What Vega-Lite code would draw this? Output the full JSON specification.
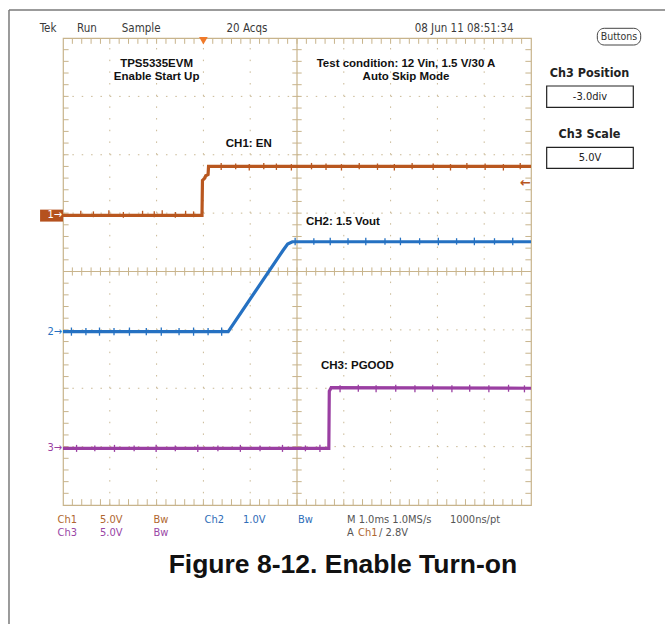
{
  "$schema": "https://vega.github.io/schema/vega-lite/v6.json",
  "width": 468,
  "height": 467,
  "autosize": {"type": "none"},
  "padding": {"left": 63, "top": 38, "right": 134, "bottom": 119},
  "background": "white",
  "config": {"view": {"stroke": "#c8b48c", "strokeWidth": 1.2}},
  "resolve": {"scale": {"color": "independent"}},
  "datasets": {
    "gx": [{"v": -4}, {"v": -3}, {"v": -2}, {"v": -1}, {"v": 1}, {"v": 2}, {"v": 3}, {"v": 4}],
    "gy": [{"v": -3}, {"v": -2}, {"v": -1}, {"v": 1}, {"v": 2}, {"v": 3}],
    "xt": [{"v": -4.8}, {"v": -4.6}, {"v": -4.4}, {"v": -4.2}, {"v": -4}, {"v": -3.8}, {"v": -3.6}, {"v": -3.4}, {"v": -3.2}, {"v": -3}, {"v": -2.8}, {"v": -2.6}, {"v": -2.4}, {"v": -2.2}, {"v": -2}, {"v": -1.8}, {"v": -1.6}, {"v": -1.4}, {"v": -1.2}, {"v": -1}, {"v": -0.8}, {"v": -0.6}, {"v": -0.4}, {"v": -0.2}, {"v": 0}, {"v": 0.2}, {"v": 0.4}, {"v": 0.6}, {"v": 0.8}, {"v": 1}, {"v": 1.2}, {"v": 1.4}, {"v": 1.6}, {"v": 1.8}, {"v": 2}, {"v": 2.2}, {"v": 2.4}, {"v": 2.6}, {"v": 2.8}, {"v": 3}, {"v": 3.2}, {"v": 3.4}, {"v": 3.6}, {"v": 3.8}, {"v": 4}, {"v": 4.2}, {"v": 4.4}, {"v": 4.6}, {"v": 4.8}],
    "yt": [{"v": -3.8}, {"v": -3.6}, {"v": -3.4}, {"v": -3.2}, {"v": -3}, {"v": -2.8}, {"v": -2.6}, {"v": -2.4}, {"v": -2.2}, {"v": -2}, {"v": -1.8}, {"v": -1.6}, {"v": -1.4}, {"v": -1.2}, {"v": -1}, {"v": -0.8}, {"v": -0.6}, {"v": -0.4}, {"v": -0.2}, {"v": 0}, {"v": 0.2}, {"v": 0.4}, {"v": 0.6}, {"v": 0.8}, {"v": 1}, {"v": 1.2}, {"v": 1.4}, {"v": 1.6}, {"v": 1.8}, {"v": 2}, {"v": 2.2}, {"v": 2.4}, {"v": 2.6}, {"v": 2.8}, {"v": 3}, {"v": 3.2}, {"v": 3.4}, {"v": 3.6}, {"v": 3.8}],
    "traces": [
      {"ch": "CH1", "i": 0, "t": -5, "v": 0.96},
      {"ch": "CH1", "i": 1, "t": -2.03, "v": 0.96},
      {"ch": "CH1", "i": 2, "t": -2.02, "v": 1.56},
      {"ch": "CH1", "i": 3, "t": -1.97, "v": 1.6},
      {"ch": "CH1", "i": 4, "t": -1.95, "v": 1.64},
      {"ch": "CH1", "i": 5, "t": -1.9, "v": 1.66},
      {"ch": "CH1", "i": 6, "t": -1.89, "v": 1.8},
      {"ch": "CH1", "i": 7, "t": 5, "v": 1.8},
      {"ch": "CH2", "i": 0, "t": -5, "v": -1.03},
      {"ch": "CH2", "i": 1, "t": -1.47, "v": -1.03},
      {"ch": "CH2", "i": 2, "t": -0.3, "v": 0.36},
      {"ch": "CH2", "i": 3, "t": -0.2, "v": 0.47},
      {"ch": "CH2", "i": 4, "t": -0.1, "v": 0.51},
      {"ch": "CH2", "i": 5, "t": 5, "v": 0.51},
      {"ch": "CH3", "i": 0, "t": -5, "v": -3.03},
      {"ch": "CH3", "i": 1, "t": 0.68, "v": -3.03},
      {"ch": "CH3", "i": 2, "t": 0.69, "v": -2.05},
      {"ch": "CH3", "i": 3, "t": 0.73, "v": -1.99},
      {"ch": "CH3", "i": 4, "t": 5, "v": -2.0}
    ],
    "spikes": [
      {"ch": "CH1", "t": -4.62, "lo": 0.94, "hi": 1.04},
      {"ch": "CH1", "t": -4.35, "lo": 0.93, "hi": 1.03},
      {"ch": "CH1", "t": -4.02, "lo": 0.94, "hi": 1.05},
      {"ch": "CH1", "t": -3.71, "lo": 0.92, "hi": 1.02},
      {"ch": "CH1", "t": -3.3, "lo": 0.94, "hi": 1.04},
      {"ch": "CH1", "t": -3.05, "lo": 0.93, "hi": 1.03},
      {"ch": "CH1", "t": -2.88, "lo": 0.94, "hi": 1.05},
      {"ch": "CH1", "t": -2.6, "lo": 0.92, "hi": 1.02},
      {"ch": "CH1", "t": -2.38, "lo": 0.94, "hi": 1.04},
      {"ch": "CH1", "t": -2.21, "lo": 0.93, "hi": 1.03},
      {"ch": "CH1", "t": -1.62, "lo": 1.74, "hi": 1.86},
      {"ch": "CH1", "t": -1.31, "lo": 1.75, "hi": 1.85},
      {"ch": "CH1", "t": -1.02, "lo": 1.73, "hi": 1.84},
      {"ch": "CH1", "t": -0.71, "lo": 1.75, "hi": 1.86},
      {"ch": "CH1", "t": -0.44, "lo": 1.74, "hi": 1.85},
      {"ch": "CH1", "t": -0.12, "lo": 1.73, "hi": 1.84},
      {"ch": "CH1", "t": 0.31, "lo": 1.75, "hi": 1.86},
      {"ch": "CH1", "t": 0.62, "lo": 1.74, "hi": 1.85},
      {"ch": "CH1", "t": 0.95, "lo": 1.73, "hi": 1.84},
      {"ch": "CH1", "t": 1.33, "lo": 1.75, "hi": 1.86},
      {"ch": "CH1", "t": 1.72, "lo": 1.74, "hi": 1.85},
      {"ch": "CH1", "t": 2.08, "lo": 1.73, "hi": 1.84},
      {"ch": "CH1", "t": 2.46, "lo": 1.75, "hi": 1.86},
      {"ch": "CH1", "t": 2.91, "lo": 1.74, "hi": 1.85},
      {"ch": "CH1", "t": 3.28, "lo": 1.73, "hi": 1.84},
      {"ch": "CH1", "t": 3.63, "lo": 1.75, "hi": 1.86},
      {"ch": "CH1", "t": 4.02, "lo": 1.74, "hi": 1.85},
      {"ch": "CH1", "t": 4.41, "lo": 1.73, "hi": 1.84},
      {"ch": "CH1", "t": 4.77, "lo": 1.75, "hi": 1.86},
      {"ch": "CH2", "t": -4.82, "lo": -1.1, "hi": -0.96},
      {"ch": "CH2", "t": -4.51, "lo": -1.09, "hi": -0.97},
      {"ch": "CH2", "t": -4.22, "lo": -1.1, "hi": -0.96},
      {"ch": "CH2", "t": -3.91, "lo": -1.09, "hi": -0.97},
      {"ch": "CH2", "t": -3.58, "lo": -1.1, "hi": -0.96},
      {"ch": "CH2", "t": -3.22, "lo": -1.09, "hi": -0.97},
      {"ch": "CH2", "t": -2.9, "lo": -1.1, "hi": -0.96},
      {"ch": "CH2", "t": -2.52, "lo": -1.09, "hi": -0.97},
      {"ch": "CH2", "t": -2.21, "lo": -1.1, "hi": -0.96},
      {"ch": "CH2", "t": -1.9, "lo": -1.09, "hi": -0.97},
      {"ch": "CH2", "t": -1.61, "lo": -1.1, "hi": -0.96},
      {"ch": "CH2", "t": -0.04, "lo": 0.45, "hi": 0.58},
      {"ch": "CH2", "t": 0.36, "lo": 0.46, "hi": 0.57},
      {"ch": "CH2", "t": 0.71, "lo": 0.45, "hi": 0.58},
      {"ch": "CH2", "t": 1.09, "lo": 0.46, "hi": 0.57},
      {"ch": "CH2", "t": 1.47, "lo": 0.45, "hi": 0.58},
      {"ch": "CH2", "t": 1.88, "lo": 0.46, "hi": 0.57},
      {"ch": "CH2", "t": 2.21, "lo": 0.45, "hi": 0.58},
      {"ch": "CH2", "t": 2.62, "lo": 0.46, "hi": 0.57},
      {"ch": "CH2", "t": 3.02, "lo": 0.45, "hi": 0.58},
      {"ch": "CH2", "t": 3.41, "lo": 0.46, "hi": 0.57},
      {"ch": "CH2", "t": 3.79, "lo": 0.45, "hi": 0.58},
      {"ch": "CH2", "t": 4.22, "lo": 0.46, "hi": 0.57},
      {"ch": "CH2", "t": 4.61, "lo": 0.45, "hi": 0.58},
      {"ch": "CH3", "t": -4.71, "lo": -3.09, "hi": -2.97},
      {"ch": "CH3", "t": -4.32, "lo": -3.08, "hi": -2.98},
      {"ch": "CH3", "t": -3.9, "lo": -3.09, "hi": -2.97},
      {"ch": "CH3", "t": -3.48, "lo": -3.08, "hi": -2.98},
      {"ch": "CH3", "t": -3.01, "lo": -3.09, "hi": -2.97},
      {"ch": "CH3", "t": -2.6, "lo": -3.08, "hi": -2.98},
      {"ch": "CH3", "t": -2.12, "lo": -3.09, "hi": -2.97},
      {"ch": "CH3", "t": -1.69, "lo": -3.08, "hi": -2.98},
      {"ch": "CH3", "t": -1.21, "lo": -3.09, "hi": -2.97},
      {"ch": "CH3", "t": -0.79, "lo": -3.08, "hi": -2.98},
      {"ch": "CH3", "t": -0.31, "lo": -3.09, "hi": -2.97},
      {"ch": "CH3", "t": 0.18, "lo": -3.08, "hi": -2.98},
      {"ch": "CH3", "t": 0.49, "lo": -3.09, "hi": -2.97},
      {"ch": "CH3", "t": 0.92, "lo": -2.07, "hi": -1.95},
      {"ch": "CH3", "t": 1.31, "lo": -2.06, "hi": -1.94},
      {"ch": "CH3", "t": 1.69, "lo": -2.07, "hi": -1.95},
      {"ch": "CH3", "t": 2.11, "lo": -2.06, "hi": -1.94},
      {"ch": "CH3", "t": 2.52, "lo": -2.07, "hi": -1.95},
      {"ch": "CH3", "t": 2.9, "lo": -2.06, "hi": -1.94},
      {"ch": "CH3", "t": 3.31, "lo": -2.07, "hi": -1.95},
      {"ch": "CH3", "t": 3.69, "lo": -2.06, "hi": -1.94},
      {"ch": "CH3", "t": 4.1, "lo": -2.07, "hi": -1.95},
      {"ch": "CH3", "t": 4.52, "lo": -2.06, "hi": -1.94},
      {"ch": "CH3", "t": 4.86, "lo": -2.07, "hi": -1.95}
    ],
    "header": [
      {"text": "Tek", "x": -5.32, "y": 4.15},
      {"text": "Run", "x": -4.49, "y": 4.15},
      {"text": "Sample", "x": -3.33, "y": 4.15},
      {"text": "20 Acqs", "x": -1.07, "y": 4.15},
      {"text": "08 Jun 11 08:51:34", "x": 3.57, "y": 4.15}
    ],
    "notes": [
      {"text": "TPS5335EVM", "x": -3.0, "y": 3.555},
      {"text": "Enable Start Up", "x": -3.0, "y": 3.33},
      {"text": "Test condition: 12 Vin, 1.5 V/30 A", "x": 2.33, "y": 3.555},
      {"text": "Auto Skip Mode", "x": 2.33, "y": 3.33},
      {"text": "CH1: EN", "x": -1.03, "y": 2.18},
      {"text": "CH2: 1.5 Vout", "x": 0.98, "y": 0.85},
      {"text": "CH3: PGOOD", "x": 1.29, "y": -1.62}
    ],
    "status": [
      {"text": "Ch1", "x": -5.118, "y": -4.257, "ch": "1"},
      {"text": "5.0V", "x": -4.209, "y": -4.257, "ch": "1"},
      {"text": "Bw", "x": -3.066, "y": -4.257, "ch": "1"},
      {"text": "Ch2", "x": -1.974, "y": -4.257, "ch": "2"},
      {"text": "1.0V", "x": -1.154, "y": -4.257, "ch": "2"},
      {"text": "Bw", "x": 0.021, "y": -4.257, "ch": "2"},
      {"text": "M 1.0ms 1.0MS/s", "x": 1.068, "y": -4.257, "ch": "k"},
      {"text": "1000ns/pt", "x": 3.269, "y": -4.257, "ch": "k"},
      {"text": "Ch3", "x": -5.118, "y": -4.48, "ch": "3"},
      {"text": "5.0V", "x": -4.209, "y": -4.48, "ch": "3"},
      {"text": "Bw", "x": -3.066, "y": -4.48, "ch": "3"},
      {"text": "A", "x": 1.068, "y": -4.48, "ch": "k"},
      {"text": "Ch1", "x": 1.303, "y": -4.48, "ch": "1"},
      {"text": "/ 2.8V", "x": 1.752, "y": -4.48, "ch": "k"}
    ],
    "markers": [
      {"text": "2→", "lvl": -1.03, "ch": "2"},
      {"text": "3→", "lvl": -3.03, "ch": "3"}
    ],
    "panelTitles": [
      {"text": "Ch3 Position", "x": 6.25, "y": 3.406},
      {"text": "Ch3 Scale", "x": 6.25, "y": 2.355}
    ],
    "panelBoxes": [
      {"text": "-3.0div", "x1": 5.335, "x2": 7.186, "y1": 3.178, "y2": 2.813, "ym": 2.989},
      {"text": "5.0V", "x1": 5.335, "x2": 7.186, "y1": 2.128, "y2": 1.768, "ym": 1.944}
    ],
    "buttons": [{"text": "Buttons", "x1": 6.417, "x2": 7.344, "y1": 4.166, "y2": 3.88, "xm": 6.88, "ym": 4.02}],
    "frameTop": [{"y": 4.48, "x1": -6.154, "x2": 8.2}],
    "frameLeft": [{"x": -6.154, "y1": 4.48, "y2": -6.3}],
    "title": [{"text": "Figure 8-12. Enable Turn-on", "x": 0.98, "y": -5.03}]
  },
  "layer": [
    {
      "data": {"name": "frameTop"},
      "mark": {"type": "rule", "color": "#7a7a7a", "strokeWidth": 1.5},
      "encoding": {
        "x": {"field": "x1", "type": "quantitative", "scale": {"domain": [-5, 5]}, "axis": null},
        "x2": {"field": "x2"},
        "y": {"field": "y", "type": "quantitative", "scale": {"domain": [-4, 4]}, "axis": null}
      }
    },
    {
      "data": {"name": "frameLeft"},
      "mark": {"type": "rule", "color": "#7a7a7a", "strokeWidth": 1.5},
      "encoding": {
        "x": {"field": "x", "type": "quantitative", "scale": {"domain": [-5, 5]}, "axis": null},
        "y": {"field": "y1", "type": "quantitative", "scale": {"domain": [-4, 4]}, "axis": null},
        "y2": {"field": "y2"}
      }
    },
    {
      "data": {"name": "gx"},
      "mark": {"type": "rule", "color": "#c9b894", "strokeWidth": 1, "strokeDash": [1.5, 10.18]},
      "encoding": {
        "x": {"field": "v", "type": "quantitative", "scale": {"domain": [-5, 5]}, "axis": null},
        "y": {"datum": -4, "type": "quantitative", "scale": {"domain": [-4, 4]}, "axis": null},
        "y2": {"datum": 4}
      }
    },
    {
      "data": {"name": "gy"},
      "mark": {"type": "rule", "color": "#c9b894", "strokeWidth": 1, "strokeDash": [1.5, 7.86]},
      "encoding": {
        "y": {"field": "v", "type": "quantitative", "scale": {"domain": [-4, 4]}, "axis": null},
        "x": {"datum": -5, "type": "quantitative", "scale": {"domain": [-5, 5]}, "axis": null},
        "x2": {"datum": 5}
      }
    },
    {
      "data": {"values": [{"v": 0}]},
      "mark": {"type": "rule", "color": "#c8b48c", "strokeWidth": 1.2},
      "encoding": {
        "x": {"field": "v", "type": "quantitative", "scale": {"domain": [-5, 5]}, "axis": null},
        "y": {"datum": -4, "type": "quantitative", "scale": {"domain": [-4, 4]}, "axis": null},
        "y2": {"datum": 4}
      }
    },
    {
      "data": {"values": [{"v": 0}]},
      "mark": {"type": "rule", "color": "#c8b48c", "strokeWidth": 1.2},
      "encoding": {
        "y": {"field": "v", "type": "quantitative", "scale": {"domain": [-4, 4]}, "axis": null},
        "x": {"datum": -5, "type": "quantitative", "scale": {"domain": [-5, 5]}, "axis": null},
        "x2": {"datum": 5}
      }
    },
    {
      "data": {"name": "xt"},
      "mark": {"type": "rule", "color": "#c8b48c", "strokeWidth": 1},
      "encoding": {
        "x": {"field": "v", "type": "quantitative", "scale": {"domain": [-5, 5]}, "axis": null},
        "y": {"datum": -0.07, "type": "quantitative", "scale": {"domain": [-4, 4]}, "axis": null},
        "y2": {"datum": 0.07}
      }
    },
    {
      "data": {"name": "xt"},
      "mark": {"type": "rule", "color": "#c8b48c", "strokeWidth": 1},
      "encoding": {
        "x": {"field": "v", "type": "quantitative", "scale": {"domain": [-5, 5]}, "axis": null},
        "y": {"datum": 4, "type": "quantitative", "scale": {"domain": [-4, 4]}, "axis": null},
        "y2": {"datum": 3.9}
      }
    },
    {
      "data": {"name": "xt"},
      "mark": {"type": "rule", "color": "#c8b48c", "strokeWidth": 1},
      "encoding": {
        "x": {"field": "v", "type": "quantitative", "scale": {"domain": [-5, 5]}, "axis": null},
        "y": {"datum": -4, "type": "quantitative", "scale": {"domain": [-4, 4]}, "axis": null},
        "y2": {"datum": -3.9}
      }
    },
    {
      "data": {"name": "yt"},
      "mark": {"type": "rule", "color": "#c8b48c", "strokeWidth": 1},
      "encoding": {
        "y": {"field": "v", "type": "quantitative", "scale": {"domain": [-4, 4]}, "axis": null},
        "x": {"datum": -0.1, "type": "quantitative", "scale": {"domain": [-5, 5]}, "axis": null},
        "x2": {"datum": 0.1}
      }
    },
    {
      "data": {"name": "yt"},
      "mark": {"type": "rule", "color": "#c8b48c", "strokeWidth": 1},
      "encoding": {
        "y": {"field": "v", "type": "quantitative", "scale": {"domain": [-4, 4]}, "axis": null},
        "x": {"datum": -5, "type": "quantitative", "scale": {"domain": [-5, 5]}, "axis": null},
        "x2": {"datum": -4.88}
      }
    },
    {
      "data": {"name": "yt"},
      "mark": {"type": "rule", "color": "#c8b48c", "strokeWidth": 1},
      "encoding": {
        "y": {"field": "v", "type": "quantitative", "scale": {"domain": [-4, 4]}, "axis": null},
        "x": {"datum": 5, "type": "quantitative", "scale": {"domain": [-5, 5]}, "axis": null},
        "x2": {"datum": 4.88}
      }
    },
    {
      "data": {"name": "traces"},
      "mark": {"type": "line", "strokeWidth": 3.2, "interpolate": "linear"},
      "encoding": {
        "x": {"field": "t", "type": "quantitative", "scale": {"domain": [-5, 5]}, "axis": null},
        "y": {"field": "v", "type": "quantitative", "scale": {"domain": [-4, 4]}, "axis": null},
        "order": {"field": "i"},
        "color": {"field": "ch", "type": "nominal", "scale": {"domain": ["CH1", "CH2", "CH3"], "range": ["#b9571f", "#2571c2", "#9a3fa2"]}, "legend": null}
      }
    },
    {
      "data": {"name": "spikes"},
      "mark": {"type": "rule", "strokeWidth": 1.3},
      "encoding": {
        "x": {"field": "t", "type": "quantitative", "scale": {"domain": [-5, 5]}, "axis": null},
        "y": {"field": "lo", "type": "quantitative", "scale": {"domain": [-4, 4]}, "axis": null},
        "y2": {"field": "hi"},
        "color": {"field": "ch", "type": "nominal", "scale": {"domain": ["CH1", "CH2", "CH3"], "range": ["#b9571f", "#2571c2", "#9a3fa2"]}, "legend": null}
      }
    },
    {
      "data": {"values": [{"t": -2.0}]},
      "mark": {"type": "point", "shape": "triangle-down", "filled": true, "size": 75, "color": "#f07a2a", "opacity": 1},
      "encoding": {
        "x": {"field": "t", "type": "quantitative", "scale": {"domain": [-5, 5]}, "axis": null},
        "y": {"datum": 3.955, "type": "quantitative", "scale": {"domain": [-4, 4]}, "axis": null}
      }
    },
    {
      "data": {"values": [{"level": 1.52}]},
      "mark": {"type": "text", "text": "←", "fontSize": 13, "fontWeight": "bold", "color": "#b9571f", "align": "center", "baseline": "middle", "font": "DejaVu Sans"},
      "encoding": {
        "y": {"field": "level", "type": "quantitative", "scale": {"domain": [-4, 4]}, "axis": null},
        "x": {"datum": 4.88, "type": "quantitative", "scale": {"domain": [-5, 5]}, "axis": null}
      }
    },
    {
      "data": {"values": [{"lvl": 0.96}]},
      "mark": {"type": "rect", "color": "#b5511e"},
      "encoding": {
        "x": {"datum": -5.49, "type": "quantitative", "scale": {"domain": [-5, 5]}, "axis": null},
        "x2": {"datum": -5.0},
        "y": {"datum": 0.855, "type": "quantitative", "scale": {"domain": [-4, 4]}, "axis": null},
        "y2": {"datum": 1.06}
      }
    },
    {
      "data": {"values": [{"lvl": 0.96}]},
      "mark": {"type": "text", "text": "1→", "fontSize": 11, "color": "white", "align": "right", "baseline": "middle", "font": "DejaVu Sans Condensed, Liberation Sans Narrow, sans-serif", "dx": -1},
      "encoding": {
        "y": {"field": "lvl", "type": "quantitative", "scale": {"domain": [-4, 4]}, "axis": null},
        "x": {"datum": -5.0, "type": "quantitative", "scale": {"domain": [-5, 5]}, "axis": null}
      }
    },
    {
      "data": {"name": "markers"},
      "mark": {"type": "text", "fontSize": 11, "align": "right", "baseline": "middle", "font": "DejaVu Sans Condensed, Liberation Sans Narrow, sans-serif", "dx": -1},
      "encoding": {
        "y": {"field": "lvl", "type": "quantitative", "scale": {"domain": [-4, 4]}, "axis": null},
        "x": {"datum": -5.0, "type": "quantitative", "scale": {"domain": [-5, 5]}, "axis": null},
        "text": {"field": "text"},
        "color": {"field": "ch", "type": "nominal", "scale": {"domain": ["2", "3"], "range": ["#2571c2", "#9a3fa2"]}, "legend": null}
      }
    },
    {
      "data": {"name": "header"},
      "mark": {"type": "text", "fontSize": 11.5, "color": "#3a3a3a", "align": "center", "baseline": "middle", "font": "Liberation Sans Narrow, DejaVu Sans Condensed, Arial Narrow, sans-serif"},
      "encoding": {
        "x": {"field": "x", "type": "quantitative", "scale": {"domain": [-5, 5]}, "axis": null},
        "y": {"field": "y", "type": "quantitative", "scale": {"domain": [-4, 4]}, "axis": null},
        "text": {"field": "text"}
      }
    },
    {
      "data": {"name": "notes"},
      "mark": {"type": "text", "fontSize": 11.5, "fontWeight": "bold", "color": "#111111", "align": "center", "baseline": "middle", "font": "Liberation Sans, Arial, sans-serif"},
      "encoding": {
        "x": {"field": "x", "type": "quantitative", "scale": {"domain": [-5, 5]}, "axis": null},
        "y": {"field": "y", "type": "quantitative", "scale": {"domain": [-4, 4]}, "axis": null},
        "text": {"field": "text"}
      }
    },
    {
      "data": {"name": "status"},
      "mark": {"type": "text", "fontSize": 11, "align": "left", "baseline": "middle", "font": "Liberation Sans Narrow, DejaVu Sans Condensed, Arial Narrow, sans-serif"},
      "encoding": {
        "x": {"field": "x", "type": "quantitative", "scale": {"domain": [-5, 5]}, "axis": null},
        "y": {"field": "y", "type": "quantitative", "scale": {"domain": [-4, 4]}, "axis": null},
        "text": {"field": "text"},
        "color": {"field": "ch", "type": "nominal", "scale": {"domain": ["1", "2", "3", "k"], "range": ["#b0672f", "#2f6db8", "#9946a6", "#555555"]}, "legend": null}
      }
    },
    {
      "data": {"name": "buttons"},
      "mark": {"type": "rect", "fill": "white", "stroke": "#444444", "strokeWidth": 1, "cornerRadius": 7},
      "encoding": {
        "x": {"field": "x1", "type": "quantitative", "scale": {"domain": [-5, 5]}, "axis": null},
        "x2": {"field": "x2"},
        "y": {"field": "y1", "type": "quantitative", "scale": {"domain": [-4, 4]}, "axis": null},
        "y2": {"field": "y2"}
      }
    },
    {
      "data": {"name": "buttons"},
      "mark": {"type": "text", "fontSize": 10.5, "color": "#333333", "align": "center", "baseline": "middle", "font": "Liberation Sans Narrow, DejaVu Sans Condensed, Arial Narrow, sans-serif"},
      "encoding": {
        "x": {"field": "xm", "type": "quantitative", "scale": {"domain": [-5, 5]}, "axis": null},
        "y": {"field": "ym", "type": "quantitative", "scale": {"domain": [-4, 4]}, "axis": null},
        "text": {"field": "text"}
      }
    },
    {
      "data": {"name": "panelTitles"},
      "mark": {"type": "text", "fontSize": 12.5, "fontWeight": "bold", "color": "#222222", "align": "center", "baseline": "middle", "font": "Liberation Sans Narrow, DejaVu Sans Condensed, Arial Narrow, sans-serif"},
      "encoding": {
        "x": {"field": "x", "type": "quantitative", "scale": {"domain": [-5, 5]}, "axis": null},
        "y": {"field": "y", "type": "quantitative", "scale": {"domain": [-4, 4]}, "axis": null},
        "text": {"field": "text"}
      }
    },
    {
      "data": {"name": "panelBoxes"},
      "mark": {"type": "rect", "fill": "white", "stroke": "#222222", "strokeWidth": 1.2},
      "encoding": {
        "x": {"field": "x1", "type": "quantitative", "scale": {"domain": [-5, 5]}, "axis": null},
        "x2": {"field": "x2"},
        "y": {"field": "y1", "type": "quantitative", "scale": {"domain": [-4, 4]}, "axis": null},
        "y2": {"field": "y2"}
      }
    },
    {
      "data": {"name": "panelBoxes"},
      "mark": {"type": "text", "fontSize": 11, "color": "#222222", "align": "center", "baseline": "middle", "font": "Liberation Sans Narrow, DejaVu Sans Condensed, Arial Narrow, sans-serif"},
      "encoding": {
        "x": {"datum": 6.26, "type": "quantitative", "scale": {"domain": [-5, 5]}, "axis": null},
        "y": {"field": "ym", "type": "quantitative", "scale": {"domain": [-4, 4]}, "axis": null},
        "text": {"field": "text"}
      }
    },
    {
      "data": {"name": "title"},
      "mark": {"type": "text", "fontSize": 26.5, "fontWeight": "bold", "color": "#111111", "align": "center", "baseline": "middle", "font": "Liberation Sans, Arial, sans-serif"},
      "encoding": {
        "x": {"field": "x", "type": "quantitative", "scale": {"domain": [-5, 5]}, "axis": null},
        "y": {"field": "y", "type": "quantitative", "scale": {"domain": [-4, 4]}, "axis": null},
        "text": {"field": "text"}
      }
    }
  ]
}
